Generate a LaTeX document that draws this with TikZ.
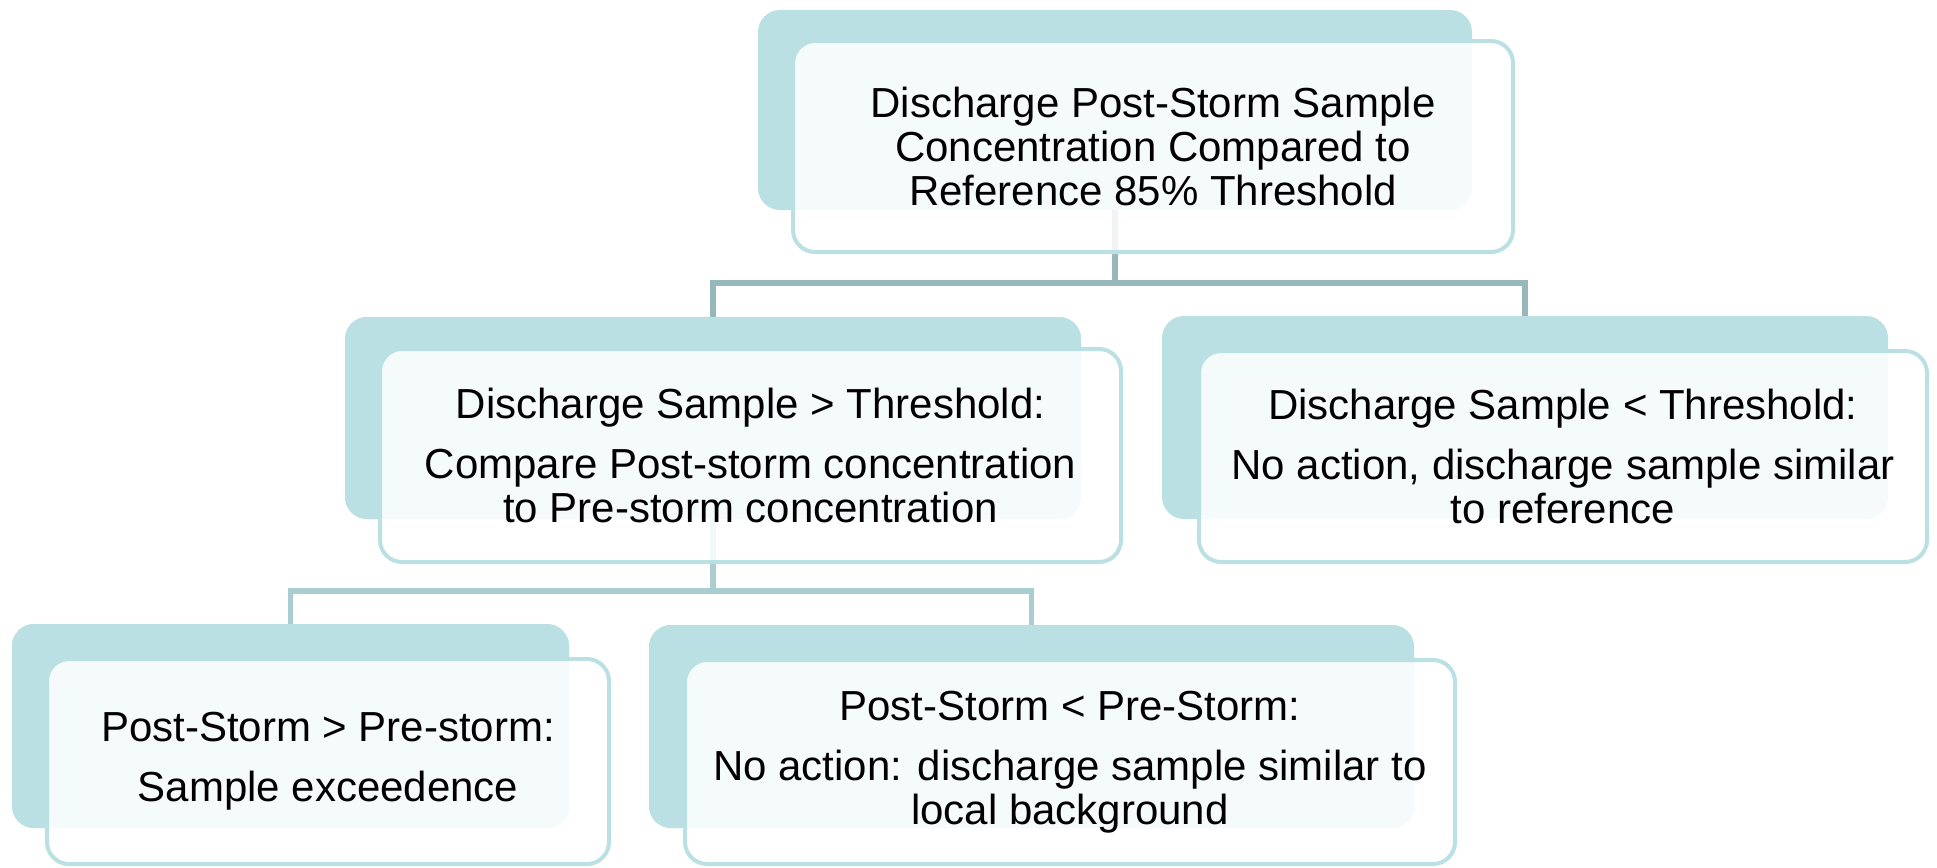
\documentclass[tikz,border=0pt]{standalone}
\usepackage{fontspec}
\setmainfont{Liberation Sans}
\begin{document}
\begin{tikzpicture}[x=0.5pt,y=-0.5pt,
  backbox/.style={draw=none,fill=tealback,rounded corners=11pt,inner sep=0pt},
  frontbox/.style={draw=tealback,line width=2pt,fill=white,fill opacity=0.86,
    text opacity=1,rounded corners=11pt,inner sep=0pt,align=center,
    font=\fontsize{21pt}{22pt}\selectfont},
  linkA/.style={draw=linkdark,line width=2.8pt},
  linkB/.style={draw=linklight,line width=2.8pt}]
\definecolor{tealback}{HTML}{BBE0E3}
\definecolor{linkdark}{HTML}{97B8BB}
\definecolor{linklight}{HTML}{A9CDD0}
\useasboundingbox (0,0) rectangle (1937,867);

% back panels
\node[backbox,minimum width=357pt,minimum height=100pt] (topB) at (1115,110) {};
\node[backbox,minimum width=368pt,minimum height=101pt] (l2lB) at (713,418) {};
\node[backbox,minimum width=363pt,minimum height=101.5pt] (l2rB) at (1525,417.5) {};
\node[backbox,minimum width=278.5pt,minimum height=102pt] (l3lB) at (290.5,726) {};
\node[backbox,minimum width=382.5pt,minimum height=101.5pt] (l3rB) at (1031.5,726.5) {};

% junction points of the tree lines
\coordinate (j1) at (1115,283);
\coordinate (j2) at (713,591);

% tree lines
\draw[linkA] (topB.south) -- (topB.south |- j1);
\draw[linkA] (l2lB.north) |- (j1) -| (l2rB.north);
\draw[linkB] (l2lB.south) -- (l2lB.south |- j2);
\draw[linkB] (l3lB.north) |- (j2) -| (l3rB.north);

% redraw back panels over line ends
\node[backbox,minimum width=368pt,minimum height=101pt] at (713,418) {};
\node[backbox,minimum width=278.5pt,minimum height=102pt] at (290.5,726) {};
\node[backbox,minimum width=382.5pt,minimum height=101.5pt] at (1031.5,726.5) {};

% front panels with text
\node[frontbox,minimum width=360pt,minimum height=105.5pt] (topF) at (1153,146.5)
  {Discharge Post-Storm Sample\\Concentration Compared to\\Reference 85\% Threshold};
\node[frontbox,minimum width=370.5pt,minimum height=106.5pt] (l2lF) at (750.5,455.5)
  {Discharge Sample > Threshold:\\[8pt]Compare Post-storm concentration\\to Pre-storm concentration};
\node[frontbox,minimum width=364pt,minimum height=105.5pt] (l2rF) at (1563,456.5)
  {Discharge Sample < Threshold:\\[8pt]No action, discharge sample similar\\to reference};
\node[frontbox,minimum width=281pt,minimum height=102.5pt] (l3lF) at (328,761.5)
  {Post-Storm > Pre-storm:\\[8pt]Sample exceedence};
\node[frontbox,minimum width=385pt,minimum height=102pt] (l3rF) at (1070,762)
  {Post-Storm < Pre-Storm:\\[8pt]No action: discharge sample similar to\\local background};
\end{tikzpicture}
\end{document}
